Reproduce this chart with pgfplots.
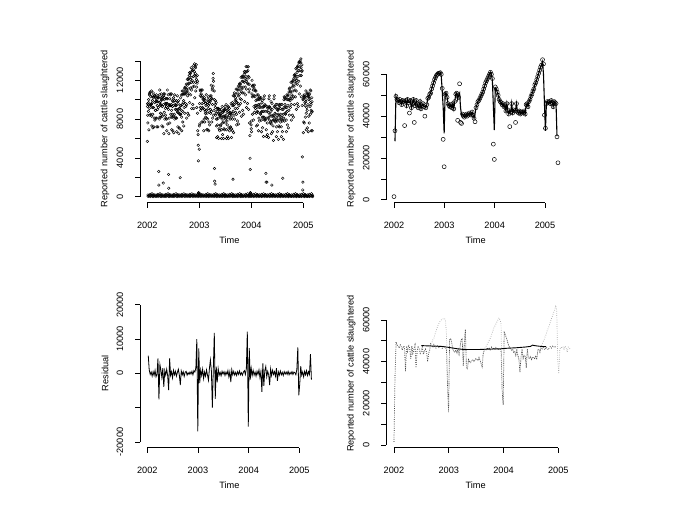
\documentclass[border=0pt]{standalone}
\usepackage{fontspec}
\setmainfont{Liberation Sans}
\usepackage{pgfplots}
\usepackage{pgfplotstable}
\pgfplotsset{compat=1.18}

% daily counts: one row per week (k = week index from 1 Jan 2002), Mon..Sun
\pgfplotstableread{
k mo tu we th fr sa su
0 5700 9300 9600 8400 7600 180 40
1 9500 8800 10000 9700 6900 120 90
2 9100 10500 10600 10700 8400 240 20
3 10800 9400 9500 10300 8500 90 130
4 9500 10900 9600 8300 7300 300 60
5 9200 9900 10400 8500 7100 150 10
6 10700 9200 10200 10300 7200 210 110
7 8100 10400 9700 10400 7900 60 70
8 10300 8900 8900 9800 8100 180 40
9 10100 10500 9800 8100 7200 120 90
10 9400 10200 9800 9000 7200 240 20
11 10200 9200 10200 2600 1200 90 130
12 8000 10500 9700 11000 8200 300 60
13 9800 9400 8600 9500 8200 150 10
14 10200 10600 10000 8500 7300 210 110
15 9300 10000 10300 8300 7200 60 70
16 1400 9500 10600 10400 6500 180 40
17 8700 10000 10200 10600 8000 120 90
18 9600 9100 8400 9500 8100 240 20
19 9600 10100 9300 8000 6800 90 130
20 9600 11000 10100 9200 7500 300 60
21 10500 9000 2300 870 6500 150 10
22 8100 9500 9400 10100 7600 210 110
23 10600 9400 9400 10500 8500 60 70
24 9500 10600 8900 8200 6900 180 40
25 8500 9900 9300 8200 6800 120 90
26 9800 8300 10200 9400 6600 240 20
27 8500 9900 9900 10500 8000 90 130
28 9500 9000 8200 9400 8100 300 60
29 9400 9900 8900 8100 6700 150 10
30 9000 10400 9800 8700 7200 210 110
31 9600 8700 9900 9000 6500 60 70
32 7100 9100 8500 9100 7000 180 40
33 1960 9400 8500 10200 8500 120 90
34 9400 10500 8900 8200 6800 240 20
35 9500 10900 10500 8800 7700 90 130
36 10600 9700 10900 9900 7300 300 60
37 9200 10600 10600 11200 8600 150 10
38 11300 10600 9600 11200 9300 210 110
39 11000 11600 10800 9500 8100 60 70
40 10800 12100 11500 10400 8600 180 40
41 12100 11100 12200 11700 8400 120 90
42 10600 12500 11700 12800 9700 240 20
43 12800 12100 11200 12700 10500 90 130
44 12300 13300 11800 11000 9100 300 60
45 12000 13000 13000 11300 9500 150 10
46 13100 11800 13500 12400 9100 210 110
47 11400 12900 12500 13700 10200 60 70
48 13400 12700 11800 13300 10900 180 40
49 12400 13600 12100 11300 9200 120 90
50 11700 12500 11900 8600 6800 240 20
51 6400 5300 3700 350 420 90 130
52 280 4900 7300 9600 7500 300 60
53 11000 10400 9200 10900 8900 150 10
54 10600 11000 10300 9100 7700 210 110
55 9600 11000 10400 9200 7700 60 70
56 10000 9100 10100 9700 6800 180 40
57 8000 10000 9000 10200 7700 120 90
58 9900 8800 8600 9600 8200 240 20
59 9400 10500 8900 8100 6900 90 130
60 8600 9500 9700 8000 6900 300 60
61 10000 9100 10300 9400 6800 150 10
62 7700 9600 8700 9900 7400 210 110
63 10400 9800 9000 10000 8600 60 70
64 10400 11500 10100 8800 7700 180 40
65 10100 11000 11200 9500 8100 120 90
66 12200 11400 12700 11900 8400 240 20
67 8900 10900 10000 2900 1600 90 130
68 1300 9500 9200 9900 8400 300 60
69 8600 9700 8000 7300 6100 150 10
70 8000 8800 9100 7400 6200 210 110
71 9000 8100 9100 8600 6000 60 70
72 7000 8500 8400 9000 6800 180 40
73 8800 8200 7400 8500 7300 120 90
74 8400 9000 8200 6900 6000 240 20
75 8000 9300 8700 7600 6400 90 130
76 8700 7700 8800 8300 6000 300 60
77 7000 8900 8300 9000 6900 150 10
78 9300 8200 8000 9000 7600 210 110
79 8400 9500 8100 6900 6000 60 70
80 7800 8700 8900 7400 6200 180 40
81 9200 8200 9300 8800 6000 120 90
82 7100 8600 8400 9100 6800 240 20
83 8700 8000 7100 8600 7200 90 130
84 8500 9600 8200 7000 6100 300 60
85 8600 9400 9700 8000 6800 150 10
86 1800 8800 10400 9400 6600 210 110
87 8400 10400 9500 10700 8000 60 70
88 10500 9900 9100 10200 8700 180 40
89 10000 11100 9700 8500 7400 120 90
90 9700 11100 10700 9100 7800 240 20
91 11000 9600 11400 10400 7500 90 130
92 9400 11300 10500 11600 8700 300 60
93 11700 11000 10100 11600 9600 150 10
94 11300 12300 10800 10000 8300 210 110
95 11100 12400 11900 10700 8900 60 70
96 12300 11300 12400 11900 8500 180 40
97 10700 12600 11800 12900 9800 120 90
98 12900 12200 11300 12800 10500 240 20
99 12400 13400 11900 11100 9200 90 130
100 12100 13400 12900 11700 9600 300 60
101 13000 11600 13400 12400 9000 150 10
102 10800 12300 11600 11100 7600 210 110
103 6300 3960 2800 420 380 60 70
104 300 7400 7000 7800 6700 180 40
105 10600 12000 11400 10300 8500 120 90
106 11400 10400 11500 11000 7900 240 20
107 9300 11200 10400 11500 8700 90 130
108 11000 10300 9400 10900 9100 300 60
109 9900 10900 9400 8600 7300 150 10
110 9200 10500 10000 8800 7400 210 110
111 10100 8700 10500 9500 6800 60 70
112 8100 10000 9200 10300 7800 180 40
113 10200 9500 8600 10100 8500 120 90
114 9200 10200 8700 7900 6700 240 20
115 8800 9700 9900 8200 7100 90 130
116 9200 8200 9300 8800 6200 300 60
117 8200 10100 9300 10400 7900 150 10
118 9500 8800 7900 9400 8000 210 110
119 2400 1500 8100 6900 6200 60 70
120 1500 9300 8800 7600 6400 180 40
121 9100 8100 9200 8700 6100 120 90
122 8200 10100 9300 10400 7900 240 20
123 9200 8500 7600 9100 7700 90 130
124 8800 9800 8300 7500 6500 300 60
125 1200 9600 9000 7800 6700 150 10
126 8300 7300 8400 7900 5800 210 110
127 8200 10100 9300 10400 7900 60 70
128 9300 8600 7700 9200 7800 180 40
129 8500 9500 8000 7200 6200 120 90
130 8200 9500 9000 7800 6700 240 20
131 8900 7900 9000 8500 5900 90 130
132 7300 9200 8400 9500 7200 300 60
133 9400 8300 8000 9100 7700 150 10
134 8500 9500 8000 7200 6200 210 110
135 8200 9500 9000 7800 6700 60 70
136 1900 7900 9000 8500 5900 180 40
137 8100 10000 9200 10300 7800 120 90
138 10200 9500 8600 10100 8500 240 20
139 9200 10200 8700 7900 6700 90 130
140 9200 10500 10000 8800 7400 300 60
141 10400 9400 10500 10000 7100 150 10
142 8900 10800 10000 11100 8400 210 110
143 11200 10100 9900 10900 9200 60 70
144 10800 11800 10300 9500 7900 180 40
145 10500 11800 11300 10100 8400 120 90
146 11900 10900 12000 11500 8200 240 20
147 10300 12200 11400 12500 9500 90 130
148 12600 11900 11000 12500 10300 300 60
149 12200 13200 11700 10900 9000 150 10
150 12000 13300 12800 11600 9600 210 110
151 13400 12400 13500 13000 9300 60 70
152 11900 13800 13000 13900 10600 180 40
153 13900 13400 12500 14000 11400 120 90
154 13800 14200 13300 12500 10300 240 20
155 12900 13600 13000 9400 4100 90 130
156 700 1500 10000 10100 6600 300 60
157 7700 10400 10200 10500 7600 150 10
158 10300 9700 9400 10300 8200 210 110
159 9800 10900 10000 8600 6900 60 70
160 9200 10600 10700 8900 7100 180 40
161 10300 9500 10700 10400 6700 120 90
162 8300 10300 10000 10500 7600 240 20
163 10600 10100 9300 11000 8500 90 130
164 9700 10900 9500 8900 6800 300 60
165 8700 10200 9800 8800 6800 150 10
}\daily

% weekly series in thousands: W observed, F fitted line, R residual, D adjusted
\pgfplotstableread{
k W F R D
0 1.5 nan nan 1.5
1 33 28 5.2 33
2 49.5 49.5 1.0 49.5
3 48 48 -0.3 48
4 47.5 47.5 0.4 47.5
5 46.5 46.5 -0.8 46.5
6 48 48 0.5 48
7 47 47 -0.6 47
8 45.5 45.5 0.9 45.5
9 47.5 47.5 -1.0 47.5
10 47 47 -0.2 47
11 35.5 46.5 4.4 35.5
12 47.5 47.5 -7.6 47.5
13 45 45 2.6 45
14 48 48 1.0 48
15 46.5 46.5 -1.2 46.5
16 41.5 46.5 1.5 41.5
17 47.5 47.5 -3.9 47.5
18 44 44 0.8 44
19 46 46 -0.5 46
20 48 48 1.2 48
21 37 46 -0.7 37
22 45 45 -4.9 45
23 47.5 47.5 4.4 47.5
24 46 46 -0.6 46
25 44 44 0.5 44
26 45 45 -1.3 45
27 47 47 0.9 47
28 43.5 43.5 -0.4 43.5
29 45 45 0.6 45
30 46 46 -0.8 46
31 44.5 44.5 0.3 44.5
32 40 44.5 1.2 40
33 44 44 -0.5 44
34 45.5 45.5 -3.4 45.5
35 48.5 48.5 0.7 48.5
36 49 49 -0.4 47.5
37 50.5 50.5 0.5 46.8
38 51 51 -0.9 48.2
39 53 53 0.3 47
40 54.5 54.5 0.6 46.5
41 56 56 -0.5 48
42 57.5 57.5 0.2 47.2
43 58.5 58.5 -0.3 46.6
44 59.5 59.5 0.4 47.8
45 60 60 -0.2 47
46 60.5 60.5 0.6 46.4
47 60.5 60.5 -0.4 47.6
48 60.8 60.8 0.8 47.1
49 60 59 0.4 46.8
50 53.3 52 1.6 46
51 28.9 44 10.0 28.9
52 15.8 31.8 -16.9 15.8
53 50.5 51 7.3 50.5
54 51 51 -2.8 51
55 49 49 1.0 49
56 46 46 -0.6 46
57 45 45 1.2 45
58 44.5 44.5 -1.5 44.5
59 45.5 45.5 0.4 45.5
60 44 44 -0.8 44
61 46 46 1.0 46
62 43.5 43.5 -0.5 43.5
63 47 47 -2.0 47
64 50.5 50.5 1.5 50.5
65 51 51 3.9 51
66 38 48 0.8 38
67 49 50 -10.0 49
68 55.5 51 1.5 55.5
69 37 44 11.8 37
70 36.5 40.5 -7.4 36.5
71 41 41 2.0 41
72 40 40 -2.6 40
73 39.5 39.5 1.4 39.5
74 40.5 40.5 -0.5 40.5
75 41 41 0.3 41
76 40 40 -0.7 40
77 40.5 40.5 0.6 40.5
78 41.5 41.5 -0.2 41.5
79 41 41 0.5 41
80 40.5 40.5 -0.6 40.5
81 42 42 0.4 42
82 40.5 40.5 -0.3 40.5
83 39 39 0.8 39
84 37.3 41 -1.0 37.3
85 44 44 0.5 44
86 45.5 45.5 -2.5 45.5
87 47 47 1.1 46.2
88 47.5 47.5 -0.4 45.5
89 48.5 48.5 0.6 46.8
90 49.5 49.5 -0.5 45.9
91 50.5 50.5 0.3 46.4
92 51.5 51.5 -0.6 45.2
93 53 53 0.5 46.9
94 54.5 54.5 -0.3 45.8
95 56 56 0.7 46.3
96 57 57 -0.4 45.6
97 58 58 0.2 46.7
98 59 59 -0.5 45.9
99 60 60 0.4 46.4
100 61 61 0.8 45.7
101 60 60 -0.3 46
102 58 57 1.4 45.3
103 26.6 45 12.2 26.6
104 19.3 33.3 -15.5 19.3
105 54 53.5 7.4 54
106 53 53 -1.8 53
107 51.5 51.5 1.5 51.5
108 50 50 -0.6 50
109 48 48 0.9 48
110 47 47 -0.5 47
111 46.5 46.5 0.4 46.5
112 45.5 45.5 -0.8 45.5
113 46 46 0.6 46
114 44.5 44.5 -0.3 44.5
115 45 45 1.0 45
116 42.5 42.5 -1.2 42.5
117 46 46 0.5 46
118 43 43 -5.4 43
119 41 41 2.9 41
120 35 42.5 -3.6 35
121 42 42 0.8 42
122 46 46 2.0 46
123 41.5 41.5 -1.0 41.5
124 43 43 0.6 43
125 42.5 42.5 -0.4 42.5
126 37 43 -3.4 37
127 46 46 1.3 46
128 42 42 -0.6 42
129 41.5 41.5 0.9 41.5
130 42.5 42.5 -0.3 42.5
131 41 41 0.5 41
132 42 42 -0.8 42
133 42 42 1.5 42
134 41.5 41.5 -2.2 41.5
135 42.5 42.5 0.4 42.5
136 41 41 -0.5 41
137 45.5 45.5 0.7 45.5
138 46 46 -0.4 46
139 44.5 44.5 0.3 44.5
140 47 47 -0.6 46.4
141 48 48 0.5 45.8
142 49.5 49.5 -0.2 46.9
143 50.5 50.5 0.4 46.2
144 52 52 -0.3 45.7
145 53 53 0.6 47
146 55 55 -0.4 46.3
147 56 56 0.3 45.6
148 57.5 57.5 -0.2 46.8
149 59 59 0.5 47.2
150 60.5 60.5 -0.3 46.5
151 62 62 0.4 47.4
152 63.5 63.5 0.2 46.8
153 64.5 64.5 -0.4 47.5
154 67 66 1.2 46.9
155 65 60 7.6 47.3
156 40.5 46 -6.4 nan
157 34.2 33 -3.0 nan
158 46 46 2.1 nan
159 47 47 -0.5 nan
160 46.5 46.5 0.4 nan
161 47 47 -1.0 nan
162 46 46 0.6 nan
163 47.5 47.5 -0.4 nan
164 46.5 46.5 0.8 nan
165 44.5 44.5 -0.6 nan
166 47 47 0.5 nan
167 46.5 46.5 -0.3 nan
168 46 46 5.6 nan
169 30.1 30.5 -1.8 nan
170 17.7 nan nan nan
}\weekly

% trend (thousands)
\pgfplotstableread{
k T
26 47.7
30 47.6
35 47.5
40 47.4
45 47.3
50 47.0
55 46.6
60 46.2
65 45.9
70 45.8
75 45.8
80 45.8
85 45.9
90 46.0
95 46.1
100 46.1
105 46.3
110 46.5
115 46.6
120 46.8
125 47.0
130 47.3
132 47.9
135 47.6
140 47.3
145 47.2
}\trend

\pgfplotsset{
  rplot/.style={
    scale only axis, width=178.8bp, height=148.2bp,
    axis lines*=left, axis line style={draw=none},
    tick align=outside, major tick length=5bp,
    tick style={black, line width=0.7bp},
    xtick={0,52.18,104.36,156.54}, xticklabels={2002,2003,2004,2005},
    scaled ticks=false, clip=false,
    x tick label style={anchor=center, yshift=-18bp},
    y tick label style={xshift=-15bp, rotate=90, anchor=center},
    xlabel={Time},
    every axis x label/.style={at={(axis description cs:0.5,0)}, anchor=center, yshift=-38bp},
    every axis y label/.style={at={(axis description cs:0,0.5)}, xshift=-35bp, rotate=90, anchor=center},
  },
  dot/.style={only marks, mark=o, mark size=1.3bp, mark options={line width=0.45bp}, black},
  rdots/.style={line width=0.7bp, dash pattern=on 0.7bp off 1.5bp, no marks},
}

\begin{document}
\fontsize{9.2bp}{11bp}\selectfont
\begin{tikzpicture}
\useasboundingbox (0,0) rectangle (685bp,513bp);

% top left: daily counts
\begin{axis}[rplot, at={(140bp,310.3bp)}, anchor=south west,
  xmin=-7.33, xmax=172.1, ymin=-618.6, ymax=14660,
  ytick={0,2000,...,14000}, yticklabels={0,,4000,,8000,,12000,},
  ylabel={Reported number of cattle slaughtered}]
  \draw[line width=0.7bp] (axis cs:0,-618.6) -- (axis cs:156.54,-618.6);
  \draw[line width=0.7bp] (axis cs:-7.33,0) -- (axis cs:-7.33,14000);
  \addplot[dot] table[x=k, y=mo] {\daily};
  \addplot[dot] table[x expr=\thisrow{k}+0.143, y=tu] {\daily};
  \addplot[dot] table[x expr=\thisrow{k}+0.286, y=we] {\daily};
  \addplot[dot] table[x expr=\thisrow{k}+0.429, y=th] {\daily};
  \addplot[dot] table[x expr=\thisrow{k}+0.571, y=fr] {\daily};
  \addplot[dot] table[x expr=\thisrow{k}+0.714, y=sa] {\daily};
  \addplot[dot] table[x expr=\thisrow{k}+0.857, y=su] {\daily};
\end{axis}

% top right: weekly totals and fitted line
\begin{axis}[rplot, at={(386.2bp,310.3bp)}, anchor=south west,
  xmin=-8.1, xmax=177.3, ymin=-1.4, ymax=69.5,
  ytick={0,10,...,60}, yticklabels={0,,20000,,40000,,60000},
  ylabel={Reported number of cattle slaughtered}]
  \draw[line width=0.7bp] (axis cs:0,-1.4) -- (axis cs:156.54,-1.4);
  \draw[line width=0.7bp] (axis cs:-8.1,0) -- (axis cs:-8.1,60);
  \addplot[black, line width=1.1bp, no marks] table[x=k, y=F] {\weekly};
  \addplot[only marks, mark=o, mark size=2bp, mark options={line width=0.5bp}, black] table[x=k, y=W] {\weekly};
\end{axis}

% bottom left: residuals
\begin{axis}[rplot, at={(140bp,65.5bp)}, anchor=south west,
  xmin=-7.5, xmax=176.6, ymin=-21.6, ymax=21.6,
  ytick={-20,-10,0,10,20}, yticklabels={-20000,,0,10000,20000},
  ylabel={Residual}]
  \draw[line width=0.7bp] (axis cs:0,-21.6) -- (axis cs:156.54,-21.6);
  \draw[line width=0.7bp] (axis cs:-7.5,-20) -- (axis cs:-7.5,20);
  \addplot[black, line width=0.8bp, no marks] table[x=k, y=R] {\weekly};
\end{axis}

% bottom right: observed, adjusted and trend
\begin{axis}[rplot, at={(386.2bp,65.5bp)}, anchor=south west,
  xmin=-7.4, xmax=162.9, ymin=-1.2, ymax=69.9,
  ytick={0,10,...,60}, yticklabels={0,,20000,,40000,,60000},
  ylabel={Reported number of cattle slaughtered}]
  \draw[line width=0.7bp] (axis cs:0,-1.2) -- (axis cs:156.54,-1.2);
  \draw[line width=0.7bp] (axis cs:-7.4,0) -- (axis cs:-7.4,60);
  \addplot[rdots, black!35, restrict x to domain=0:168] table[x=k, y=W] {\weekly};
  \addplot[rdots, black!75] table[x=k, y=D] {\weekly};
  \addplot[black, line width=0.9bp, no marks] table[x=k, y=T] {\trend};
\end{axis}
\end{tikzpicture}
\end{document}
